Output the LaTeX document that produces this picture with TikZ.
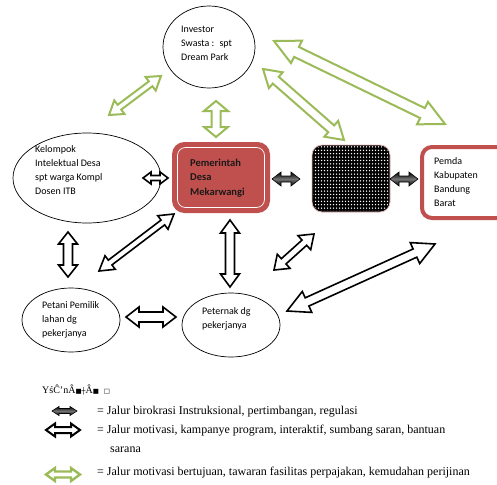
\documentclass[tikz,border=0pt]{standalone}
\usepackage{fontspec}
\setmainfont{Liberation Serif}
\newfontfamily\nodefont{Carlito}
\newfontfamily\dvsfont{DejaVu Sans}
\usetikzlibrary{calc,patterns,shapes.geometric}
\definecolor{accred}{HTML}{C0504D}
\definecolor{accgreen}{HTML}{9BBB59}
\definecolor{pinkedge}{HTML}{E6B9B8}
\pgfdeclarepatternformonly{wdots}{\pgfqpoint{-1pt}{-1pt}}{\pgfqpoint{2pt}{2.4pt}}{\pgfqpoint{3pt}{3.4pt}}{\pgfpathcircle{\pgfqpoint{0.5pt}{0.5pt}}{0.75pt}\pgfusepath{fill}}
\newcommand\dblarr[6]{\path[#1] (#2) -- ($(#2)!#6!(#3)!#5!90:(#3)$) -- ($(#2)!#6!(#3)!#4!90:(#3)$) -- ($(#3)!#6!(#2)!#4!-90:(#2)$) -- ($(#3)!#6!(#2)!#5!-90:(#2)$) -- (#3) -- ($(#3)!#6!(#2)!#5!90:(#2)$) -- ($(#3)!#6!(#2)!#4!90:(#2)$) -- ($(#2)!#6!(#3)!#4!-90:(#3)$) -- ($(#2)!#6!(#3)!#5!-90:(#3)$) -- cycle;}
\tikzset{
 ell/.style={ellipse, draw=black, line width=0.7pt, inner sep=0pt},
 txt/.style={font=\nodefont\fontsize{10}{14}\selectfont, align=left, inner sep=0pt, anchor=west},
 barr/.style={draw=black, line width=1.6pt, fill=white, line join=miter},
 garr/.style={draw=accgreen, line width=2pt, fill=white, line join=miter},
 darr/.style={draw=black, line width=0.6pt, top color=black, bottom color=black, middle color=black!55},
 lg/.style={font=\fontsize{12}{14}\selectfont, inner sep=0pt, anchor=west},
}
\begin{document}
\begin{tikzpicture}[x=1pt,y=-1pt]
\useasboundingbox (0,0) rectangle (497,484);
\clip (0,0) rectangle (497,484);
% ellipses
\node[ell, minimum width=92pt, minimum height=82pt] (inv) at (209,47) {};
\node[ell, minimum width=148pt, minimum height=90pt] (kel) at (87,178) {};
\node[ell, minimum width=98pt, minimum height=64pt] (pet) at (71,320) {};
\node[ell, minimum width=98pt, minimum height=64pt] (ptk) at (231,325) {};
% boxes
\node[draw=accred, fill=accred, line width=3pt, rounded corners=11pt, minimum width=95pt, minimum height=68pt] (pem) at (221,177.5) {};
\node[draw=white, line width=0.7pt, rounded corners=8pt, minimum width=87pt, minimum height=60pt] (pemin) at (221,177.5) {};
\node[draw=pinkedge, line width=0.8pt, fill=black, rounded corners=10pt, minimum width=78pt, minimum height=67pt] (pat) at (351,178.5) {};
\path[pattern=wdots, pattern color=white, rounded corners=9pt] ($(pat.south west)+(1.5,-1.5)$) rectangle ($(pat.north east)+(-1.5,1.5)$);
\node[draw=accred, fill=white, line width=4pt, rounded corners=10pt, minimum width=88pt, minimum height=71pt] (pemda) at (466,182.5) {};
% texts
\node[txt] (invt) at (181,43) {Investor\\Swasta :~ spt\\Dream Park};
\node[txt] (kelt) at (35,170.5) {Kelompok\\Intelektual Desa\\spt warga Kompl\\Dosen ITB};
\node[txt, font=\nodefont\bfseries\fontsize{10.5}{14.5}\selectfont, text=black!90] (pemt) at (190,178) {Pemerintah\\Desa\\Mekarwangi};
\node[txt] (pemdat) at (434,182.5) {Pemda\\Kabupaten\\Bandung\\Barat};
\node[txt] (pett) at (42,320) {Petani Pemilik\\lahan dg\\pekerjanya};
\node[txt] (ptkt) at (202,318.5) {Peternak dg\\pekerjanya};
% arrow end points
\coordinate (a1) at (143,178); \coordinate (b1) at (168,178);
\coordinate (a2) at (68,232); \coordinate (b2) at (68,277);
\coordinate (a3) at (99,271); \coordinate (b3) at (174,214);
\coordinate (a4) at (230,220); \coordinate (b4) at (230,287);
\coordinate (a5) at (126,317); \coordinate (b5) at (176,317);
\coordinate (a6) at (274,270); \coordinate (b6) at (314,234);
\coordinate (a7) at (287,311); \coordinate (b7) at (435,244);
\coordinate (g1) at (109,115); \coordinate (h1) at (161,76);
\coordinate (g2) at (216,101); \coordinate (h2) at (216,137);
\coordinate (g3) at (263,69); \coordinate (h3) at (344,140);
\coordinate (g4) at (274,41); \coordinate (h4) at (445,124);
\coordinate (d1) at (272,179); \coordinate (e1) at (300,179);
\coordinate (d2) at (390,179); \coordinate (e2) at (418,179);
% black outlined arrows
\dblarr{barr}{a1}{b1}{2.5pt}{6pt}{8pt}
\dblarr{barr}{a2}{b2}{4.5pt}{9.5pt}{12pt}
\dblarr{barr}{a3}{b3}{3pt}{8.5pt}{14pt}
\dblarr{barr}{a4}{b4}{4.5pt}{9.5pt}{13pt}
\dblarr{barr}{a5}{b5}{5pt}{10pt}{13pt}
\dblarr{barr}{a6}{b6}{3.5pt}{9.5pt}{13pt}
\dblarr{barr}{a7}{b7}{4.5pt}{11.5pt}{22pt}
% green arrows
\dblarr{garr}{g1}{h1}{3pt}{8.5pt}{13pt}
\dblarr{garr}{g2}{h2}{4.5pt}{12pt}{10pt}
\dblarr{garr}{g3}{h3}{4.5pt}{10.5pt}{17pt}
\dblarr{garr}{g4}{h4}{5.5pt}{12.5pt}{25pt}
% dark filled arrows
\dblarr{darr}{d1}{e1}{3pt}{7pt}{9pt}
\dblarr{darr}{d2}{e2}{3pt}{7pt}{9pt}
% legend
\node[lg, font=\fontsize{10}{12}\selectfont] (lgh) at (42,390) {YśĈ'nÂ{\dvsfont\fontsize{6.5}{10}\selectfont■┼}Â{\dvsfont\fontsize{6.5}{10}\selectfont■\hspace{5pt}□}};
\coordinate (l1a) at (52,411); \coordinate (l1b) at (77,411);
\coordinate (l2a) at (46,430); \coordinate (l2b) at (80,430);
\coordinate (l3a) at (46,474.5); \coordinate (l3b) at (80,474.5);
\dblarr{darr}{l1a}{l1b}{2.5pt}{4.5pt}{7pt}
\dblarr{barr, line width=2pt}{l2a}{l2b}{3pt}{6.5pt}{9pt}
\dblarr{garr, line width=2.4pt}{l3a}{l3b}{3pt}{6.5pt}{9pt}
\node[lg] (lt1) at (97,412) {= Jalur birokrasi Instruksional, pertimbangan, regulasi};
\node[lg] (lt2) at (97,431) {= Jalur motivasi, kampanye program, interaktif, sumbang saran, bantuan};
\node[lg] (lt3) at (110,450) {sarana};
\node[lg] (lt4) at (97,473) {= Jalur motivasi bertujuan, tawaran fasilitas perpajakan, kemudahan perijinan};
\end{tikzpicture}
\end{document}
